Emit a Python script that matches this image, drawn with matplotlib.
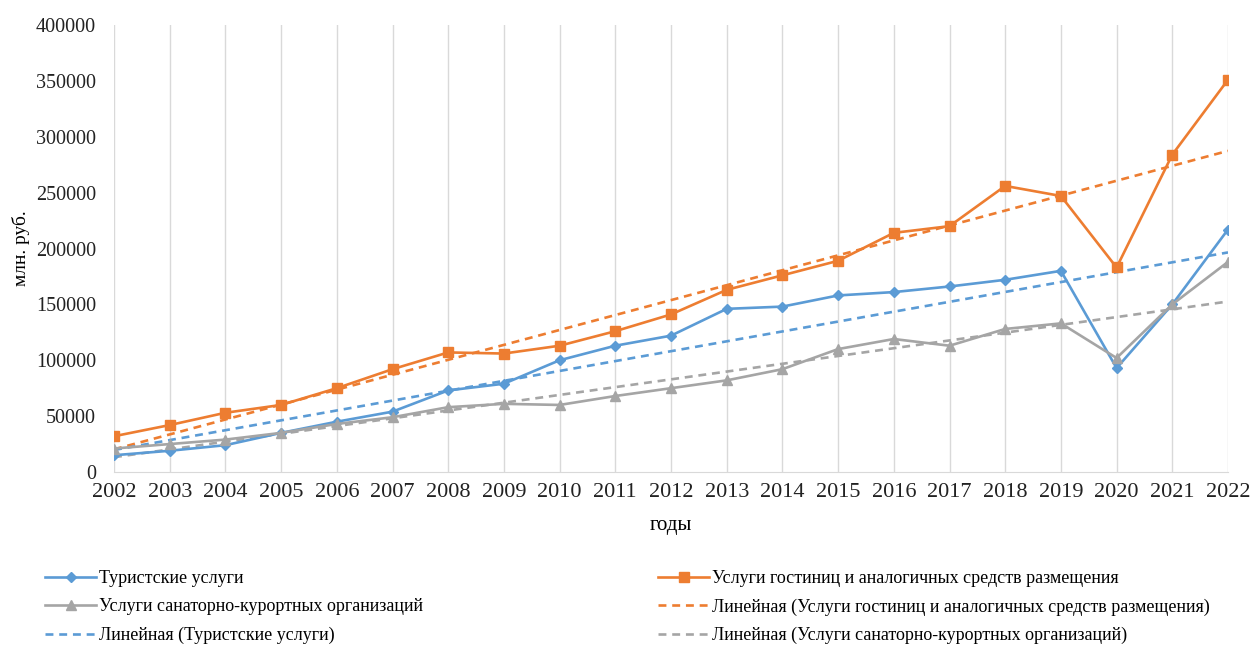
import numpy as np
import matplotlib
matplotlib.use("Agg")
import matplotlib.pyplot as plt

years = list(range(2002, 2023))
tourist = [15000, 19000, 24000, 35000, 45000, 54000, 73000, 79000, 100000, 113000, 122000,
           146000, 148000, 158000, 161000, 166000, 172000, 180000, 93000, 150000, 217000]
hotels = [32000, 42000, 53000, 60000, 75000, 92000, 107000, 106000, 113000, 126000, 141000,
          163000, 176000, 189000, 214000, 220000, 256000, 247000, 183000, 284000, 351000]
sanat = [21000, 25000, 29000, 35000, 43000, 49000, 58000, 61000, 60000, 68000, 75000,
         82000, 92000, 110000, 119000, 113000, 128000, 133000, 102000, 150000, 188000]
yticks = [0, 50000, 100000, 150000, 200000, 250000, 300000, 350000, 400000]

lbl_t = "Туристские услуги"
lbl_h = "Услуги гостиниц и аналогичных средств размещения"
lbl_s = "Услуги санаторно-курортных организаций"
lbl_tt = "Линейная (Туристские услуги)"
lbl_ht = "Линейная (Услуги гостиниц и аналогичных средств размещения)"
lbl_st = "Линейная (Услуги санаторно-курортных организаций)"

plt.rcParams['font.family'] = ['Liberation Serif', 'DejaVu Serif']

c_blue = '#5B9BD5'
c_orange = '#ED7D31'
c_gray = '#A5A5A5'

fig = plt.figure(figsize=(12.54, 6.48), dpi=100)
ax = fig.add_axes([114/1254, 1 - 472/648, (1228-114)/1254, (472-25)/648])

x = np.array(years)
def trend(v):
    k, b = np.polyfit(x, np.array(v, dtype=float), 1)
    return k * x + b

l_t, = ax.plot(years, tourist, color=c_blue, lw=1.9, marker='D', ms=5.5, label=lbl_t, zorder=4)
l_h, = ax.plot(years, hotels, color=c_orange, lw=1.9, marker='s', ms=7, label=lbl_h, zorder=4)
l_s, = ax.plot(years, sanat, color=c_gray, lw=1.9, marker='^', ms=7, label=lbl_s, zorder=4)
tr_h, = ax.plot(years, trend(hotels), color=c_orange, lw=1.9, ls=(0, (3, 2.2)), label=lbl_ht, zorder=3)
tr_t, = ax.plot(years, trend(tourist), color=c_blue, lw=1.9, ls=(0, (3, 2.2)), label=lbl_tt, zorder=3)
tr_s, = ax.plot(years, trend(sanat), color=c_gray, lw=1.9, ls=(0, (3, 2.2)), label=lbl_st, zorder=3)

ax.set_xlim(2002, 2022)
ax.set_ylim(0, 400000)
ax.set_xticks(years)
ax.set_xticklabels([str(y) for y in years], fontsize=16)
ax.set_yticks(yticks)
ax.set_yticklabels([str(v) for v in yticks], fontsize=14.5)
ax.tick_params(axis='both', length=0, pad=8, colors='#222222')
ax.tick_params(axis='y', pad=13)
ax.grid(axis='x', color='#D9D9D9', lw=1)
ax.set_axisbelow(True)
for s in ['top', 'right', 'left']:
    ax.spines[s].set_visible(False)
ax.spines['bottom'].set_color('#D9D9D9')
ax.set_xlabel("годы", fontsize=15, labelpad=10)
ax.set_ylabel("млн. руб.", fontsize=14, labelpad=4)

leg1 = fig.legend([l_t, l_s, tr_t], [lbl_t, lbl_s, lbl_tt], loc='upper left',
                  bbox_to_anchor=(38/1254, 1 - 563/648), frameon=False, fontsize=13,
                  handlelength=2.8, handletextpad=0.2, labelspacing=0.62, borderaxespad=0)
leg2 = fig.legend([l_h, tr_h, tr_s], [lbl_h, lbl_ht, lbl_st], loc='upper left',
                  bbox_to_anchor=(651/1254, 1 - 563/648), frameon=False, fontsize=13,
                  handlelength=2.8, handletextpad=0.2, labelspacing=0.62, borderaxespad=0)

fig.savefig("out.png", dpi=100)
